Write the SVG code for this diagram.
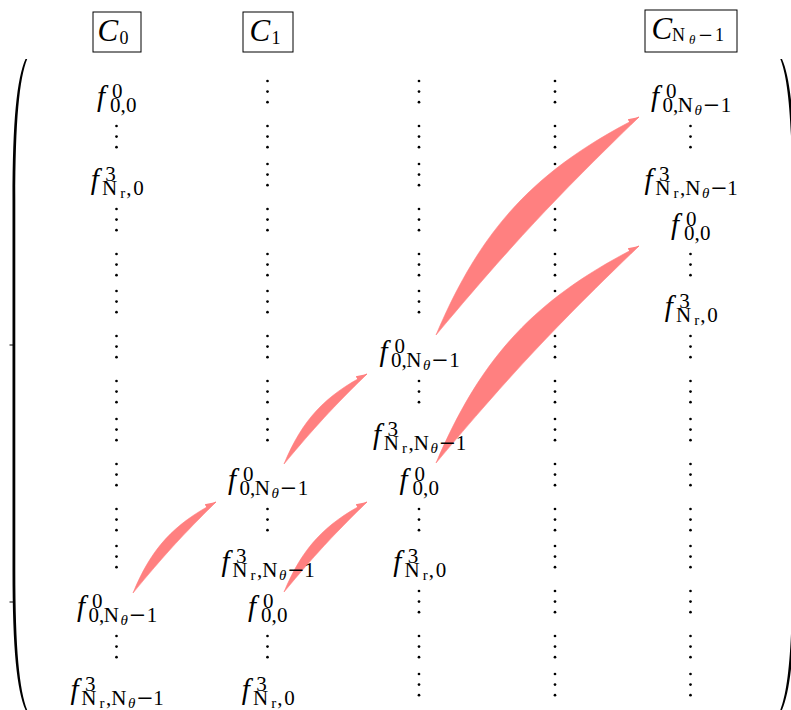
<svg xmlns="http://www.w3.org/2000/svg" xmlns:xlink="http://www.w3.org/1999/xlink" width="791" height="710" viewBox="0 0 791 710">
<style>
.m{font-family:"Liberation Serif","DejaVu Serif",serif;fill:#000}
.f{font-size:29px;font-style:italic}
.c{font-size:31px;font-style:italic}
.s{font-size:21px}
.ss{font-size:15px}
.bs{font-size:18px}
.bss{font-size:13px}
.i{font-style:italic}
.mn{font-family:"DejaVu Serif",serif}
.box{fill:none;stroke:#000;stroke-width:1}
.cres{fill:#ff8080;stroke:#ff8080;stroke-width:0.6;stroke-linejoin:round}
.head{fill:none;stroke:#ff8080;stroke-width:1;marker-end:url(#ah)}
.dot{fill:#000}
</style>
<defs>
<g id="vd"><circle class="dot" cx="0" cy="0" r="1.35"/><circle class="dot" cx="0" cy="10.6" r="1.35"/><circle class="dot" cx="0" cy="21.2" r="1.35"/></g>
<marker id="ah" markerUnits="userSpaceOnUse" markerWidth="11" markerHeight="8" viewBox="0 0 11 8" refX="11" refY="4" orient="auto"><path d="M0,0.8 L11,4 L0,7.2 Z" fill="#ff8080"/></marker>
</defs>
<rect x="0" y="0" width="791" height="710" fill="#fff"/>

<g id="brackets">
<path d="M25.5,59 C17,78 12.5,120 12.5,200 L12.5,570 C12.5,650 17,690 25.5,710 L27.2,710 C19.5,690 15.3,650 15.3,570 L15.3,200 C15.3,120 19.5,78 27.2,59 Z" fill="#000"/>
<line x1="9.5" y1="345" x2="13.5" y2="345" stroke="#000" stroke-width="1"/>
<line x1="9.5" y1="602" x2="13.5" y2="602" stroke="#000" stroke-width="1"/>
<path d="M782,59 C790.5,78 795,120 795,200 L795,570 C795,650 790.5,690 782,710 L780.3,710 C788,690 792.2,650 792.2,570 L792.2,200 C792.2,120 788,78 780.3,59 Z" fill="#000"/>
</g>

<g id="header-C0"><rect class="box" x="93" y="12" width="48" height="40"/><text class="m"><tspan class="c" x="97.5" y="41">C</tspan><tspan class="bs" x="119.5" y="44">0</tspan></text></g>
<g id="header-C1"><rect class="box" x="243" y="12" width="50" height="40"/><text class="m"><tspan class="c" x="249.5" y="41">C</tspan><tspan class="bs" x="271.5" y="44">1</tspan></text></g>
<g id="header-CN"><rect class="box" x="645" y="10" width="92" height="42"/><text class="m"><tspan class="c" x="651.5" y="38.5">C</tspan><tspan class="bs" x="672" y="41">N</tspan><tspan class="bss i" x="689" y="43.5">θ</tspan><tspan class="bs mn" x="698" y="41">−</tspan><tspan class="bs" x="715" y="41">1</tspan></text></g>

<g id="vdots">
<g id="vdots-c0"><use xlink:href="#vd" x="116.5" y="126"/><use xlink:href="#vd" x="116.5" y="209"/><use xlink:href="#vd" x="116.5" y="254"/><use xlink:href="#vd" x="116.5" y="291"/><use xlink:href="#vd" x="116.5" y="336"/><use xlink:href="#vd" x="116.5" y="381"/><use xlink:href="#vd" x="116.5" y="419"/><use xlink:href="#vd" x="116.5" y="464"/><use xlink:href="#vd" x="116.5" y="509"/><use xlink:href="#vd" x="116.5" y="546"/><use xlink:href="#vd" x="116.5" y="636"/></g>
<g id="vdots-c1"><use xlink:href="#vd" x="267.5" y="81"/><use xlink:href="#vd" x="267.5" y="126"/><use xlink:href="#vd" x="267.5" y="164"/><use xlink:href="#vd" x="267.5" y="209"/><use xlink:href="#vd" x="267.5" y="254"/><use xlink:href="#vd" x="267.5" y="291"/><use xlink:href="#vd" x="267.5" y="336"/><use xlink:href="#vd" x="267.5" y="381"/><use xlink:href="#vd" x="267.5" y="419"/><use xlink:href="#vd" x="267.5" y="509"/><use xlink:href="#vd" x="267.5" y="636"/></g>
<g id="vdots-c2"><use xlink:href="#vd" x="419" y="81"/><use xlink:href="#vd" x="419" y="126"/><use xlink:href="#vd" x="419" y="164"/><use xlink:href="#vd" x="419" y="209"/><use xlink:href="#vd" x="419" y="254"/><use xlink:href="#vd" x="419" y="291"/><use xlink:href="#vd" x="419" y="381"/><use xlink:href="#vd" x="419" y="509"/><use xlink:href="#vd" x="419" y="591"/><use xlink:href="#vd" x="419" y="636"/><use xlink:href="#vd" x="419" y="674"/></g>
<g id="vdots-c3"><use xlink:href="#vd" x="555" y="81"/><use xlink:href="#vd" x="555" y="126"/><use xlink:href="#vd" x="555" y="164"/><use xlink:href="#vd" x="555" y="209"/><use xlink:href="#vd" x="555" y="254"/><use xlink:href="#vd" x="555" y="291"/><use xlink:href="#vd" x="555" y="336"/><use xlink:href="#vd" x="555" y="381"/><use xlink:href="#vd" x="555" y="419"/><use xlink:href="#vd" x="555" y="464"/><use xlink:href="#vd" x="555" y="509"/><use xlink:href="#vd" x="555" y="546"/><use xlink:href="#vd" x="555" y="591"/><use xlink:href="#vd" x="555" y="636"/><use xlink:href="#vd" x="555" y="674"/></g>
<g id="vdots-c4"><use xlink:href="#vd" x="690.5" y="126"/><use xlink:href="#vd" x="690.5" y="254"/><use xlink:href="#vd" x="690.5" y="336"/><use xlink:href="#vd" x="690.5" y="381"/><use xlink:href="#vd" x="690.5" y="419"/><use xlink:href="#vd" x="690.5" y="464"/><use xlink:href="#vd" x="690.5" y="509"/><use xlink:href="#vd" x="690.5" y="546"/><use xlink:href="#vd" x="690.5" y="591"/><use xlink:href="#vd" x="690.5" y="636"/><use xlink:href="#vd" x="690.5" y="674"/></g>
</g>

<g id="connectors">
<path class="cres" d="M133,593 C151.3,548.4 173.3,524.4 216,502 C181.8,535.8 163.6,555.8 133,593 Z"/>
<path class="head" d="M213.3,503.4 L216,502"/>
<path class="cres" d="M284,464 C302.4,419.8 324.4,396 367,374 C332.8,407.4 314.6,427.2 284,464 Z"/>
<path class="head" d="M364.3,375.4 L367,374"/>
<path class="cres" d="M284,592 C302.4,547.8 324.4,524 367,502 C332.8,535.4 314.6,555.2 284,592 Z"/>
<path class="head" d="M364.3,503.4 L367,502"/>
<path class="cres" d="M436,335 C481.5,227.6 535.1,170 639,117 C555.2,198 510.8,245.6 436,335 Z"/>
<path class="head" d="M636.3,118.4 L639,117"/>
<path class="cres" d="M436,463 C481.6,356 535.2,298.6 639,246 C555.1,326.7 510.9,373.9 436,463 Z"/>
<path class="head" d="M636.3,247.4 L639,246"/>
</g>

<g id="c0-f00"><text class="m"><tspan class="f" x="97" y="106">f</tspan><tspan class="s" x="112" y="98">0</tspan><tspan class="s" x="110 120.5 126" y="112">0,0</tspan></text></g>
<g id="c0-f3Nr0"><text class="m"><tspan class="f" x="90.8" y="189">f</tspan><tspan class="s" x="105.3" y="181">3</tspan><tspan class="s" x="102" y="195">N</tspan><tspan class="ss" x="120.2" y="198">r</tspan><tspan class="s" x="126.3 133.3" y="195">,0</tspan></text></g>
<g id="c0-f0N"><text class="m"><tspan class="f" x="77" y="616">f</tspan><tspan class="s" x="92" y="608">0</tspan><tspan class="s" x="88.5 99 103.7" y="622">0,N</tspan><tspan class="ss i" x="120.4" y="625">θ</tspan><tspan class="s mn" x="128.8" y="622">−</tspan><tspan class="s" x="146.7" y="622">1</tspan></text></g>
<g id="c0-f3NrN"><text class="m"><tspan class="f" x="70.5" y="699">f</tspan><tspan class="s" x="85" y="691">3</tspan><tspan class="s" x="81.2" y="705">N</tspan><tspan class="ss" x="99.4" y="708">r</tspan><tspan class="s" x="106 111.2" y="705">,N</tspan><tspan class="ss i" x="127.9" y="708">θ</tspan><tspan class="s mn" x="136.3" y="705">−</tspan><tspan class="s" x="153.2" y="705">1</tspan></text></g>

<g id="c1-f0N"><text class="m"><tspan class="f" x="228" y="489">f</tspan><tspan class="s" x="243" y="481">0</tspan><tspan class="s" x="239.5 250 254.7" y="495">0,N</tspan><tspan class="ss i" x="271.4" y="498">θ</tspan><tspan class="s mn" x="279.8" y="495">−</tspan><tspan class="s" x="297.7" y="495">1</tspan></text></g>
<g id="c1-f3NrN"><text class="m"><tspan class="f" x="221.5" y="571">f</tspan><tspan class="s" x="236" y="563">3</tspan><tspan class="s" x="232.2" y="577">N</tspan><tspan class="ss" x="250.4" y="580">r</tspan><tspan class="s" x="257 262.2" y="577">,N</tspan><tspan class="ss i" x="278.9" y="580">θ</tspan><tspan class="s mn" x="287.3" y="577">−</tspan><tspan class="s" x="304.2" y="577">1</tspan></text></g>
<g id="c1-f00"><text class="m"><tspan class="f" x="248" y="616">f</tspan><tspan class="s" x="263" y="608">0</tspan><tspan class="s" x="261 271.5 277" y="622">0,0</tspan></text></g>
<g id="c1-f3Nr0"><text class="m"><tspan class="f" x="241.8" y="699">f</tspan><tspan class="s" x="256.3" y="691">3</tspan><tspan class="s" x="253" y="705">N</tspan><tspan class="ss" x="271.2" y="708">r</tspan><tspan class="s" x="277.3 284.3" y="705">,0</tspan></text></g>

<g id="c2-f0N"><text class="m"><tspan class="f" x="379.5" y="361">f</tspan><tspan class="s" x="394.5" y="353">0</tspan><tspan class="s" x="391 401.5 406.2" y="367">0,N</tspan><tspan class="ss i" x="422.9" y="370">θ</tspan><tspan class="s mn" x="431.3" y="367">−</tspan><tspan class="s" x="449.2" y="367">1</tspan></text></g>
<g id="c2-f3NrN"><text class="m"><tspan class="f" x="373" y="444">f</tspan><tspan class="s" x="387.5" y="436">3</tspan><tspan class="s" x="383.7" y="450">N</tspan><tspan class="ss" x="401.9" y="453">r</tspan><tspan class="s" x="408.5 413.7" y="450">,N</tspan><tspan class="ss i" x="430.4" y="453">θ</tspan><tspan class="s mn" x="438.8" y="450">−</tspan><tspan class="s" x="455.7" y="450">1</tspan></text></g>
<g id="c2-f00"><text class="m"><tspan class="f" x="399.5" y="489">f</tspan><tspan class="s" x="414.5" y="481">0</tspan><tspan class="s" x="412.5 423 428.5" y="495">0,0</tspan></text></g>
<g id="c2-f3Nr0"><text class="m"><tspan class="f" x="393.3" y="571">f</tspan><tspan class="s" x="407.8" y="563">3</tspan><tspan class="s" x="404.5" y="577">N</tspan><tspan class="ss" x="422.7" y="580">r</tspan><tspan class="s" x="428.8 435.8" y="577">,0</tspan></text></g>

<g id="cN-f0N"><text class="m"><tspan class="f" x="651" y="106">f</tspan><tspan class="s" x="666" y="98">0</tspan><tspan class="s" x="662.5 673 677.7" y="112">0,N</tspan><tspan class="ss i" x="694.4" y="115">θ</tspan><tspan class="s mn" x="702.8" y="112">−</tspan><tspan class="s" x="720.7" y="112">1</tspan></text></g>
<g id="cN-f3NrN"><text class="m"><tspan class="f" x="644.5" y="189">f</tspan><tspan class="s" x="659" y="181">3</tspan><tspan class="s" x="655.2" y="195">N</tspan><tspan class="ss" x="673.4" y="198">r</tspan><tspan class="s" x="680 685.2" y="195">,N</tspan><tspan class="ss i" x="701.9" y="198">θ</tspan><tspan class="s mn" x="710.3" y="195">−</tspan><tspan class="s" x="727.2" y="195">1</tspan></text></g>
<g id="cN-f00"><text class="m"><tspan class="f" x="671" y="234">f</tspan><tspan class="s" x="686" y="226">0</tspan><tspan class="s" x="684 694.5 700" y="240">0,0</tspan></text></g>
<g id="cN-f3Nr0"><text class="m"><tspan class="f" x="664.8" y="316">f</tspan><tspan class="s" x="679.3" y="308">3</tspan><tspan class="s" x="676" y="322">N</tspan><tspan class="ss" x="694.2" y="325">r</tspan><tspan class="s" x="700.3 707.3" y="322">,0</tspan></text></g>
</svg>
